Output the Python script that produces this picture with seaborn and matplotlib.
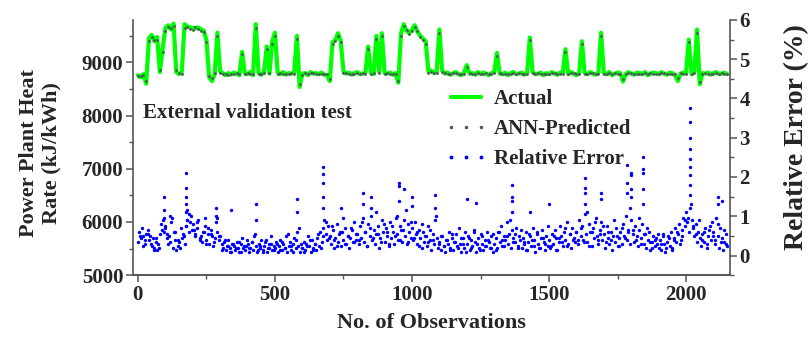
import numpy as np
import matplotlib
matplotlib.use('Agg')
import matplotlib.pyplot as plt
from matplotlib.lines import Line2D
import seaborn as sns

# heat rate, one value every 10 observations (kJ/kWh)
obs_step = 10
actual = [
    8760, 8720, 8780, 8600, 9450, 9520, 9400, 9480, 8820, 9250,
    9650, 9700, 9620, 9730, 8820, 8780, 8820, 9720, 9680, 9660,
    9650, 9640, 9660, 9620, 9600, 9420, 8720, 8650, 8780, 9560,
    8830, 8800, 8760, 8800, 8770, 8810, 8790, 8760, 9200, 8800,
    8780, 8820, 8760, 9720, 8800, 8770, 8820, 9300, 8790, 9400,
    9560, 8800, 8780, 8820, 8770, 8800, 8790, 8810, 9500, 8540,
    8790, 8800, 8760, 8820, 8790, 8800, 8780, 8810, 8770, 8760,
    8650, 9380, 9420, 9550, 9400, 8830, 8790, 8810, 8770, 8800,
    8820, 8780, 8790, 8810, 9300, 8800, 8780, 9500, 8820, 9550,
    8800, 8790, 8810, 8770, 8800, 8620, 9550, 9720, 9600, 9550,
    9620, 9700, 9580, 9500, 9450, 9400, 8830, 8850, 8800, 8820,
    9620, 8850, 8790, 8810, 8770, 8800, 8820, 8780, 8760, 8810,
    8950, 8790, 8800, 8770, 8820, 8780, 8810, 8790, 8760, 8800,
    8820, 9180, 8790, 8780, 8810, 8760, 8800, 8820, 8780, 8790,
    8810, 8770, 8800, 9470, 8820, 8780, 8790, 8810, 8760, 8800,
    8780, 8820, 8790, 8770, 8810, 8800, 9250, 8780, 8820, 8790,
    8760, 8810, 9400, 8800, 8780, 8820, 8790, 8770, 8810, 9560,
    8800, 8780, 8820, 8760, 8790, 8810, 8800, 8640, 8780, 8820,
    8790, 8770, 8810, 8800, 8780, 8820, 8760, 8790, 8810, 8800,
    8780, 8820, 8790, 8770, 8810, 8800, 8760, 8650, 8790, 8810,
    8800, 9430, 8780, 8820, 9620, 8590, 8800, 8790, 8810, 8770,
    8800, 8820, 8780, 8790, 8810, 8780]

predicted = [
    8740, 8750, 8760, 8650, 9400, 9480, 9420, 9430, 8860, 9200,
    9600, 9660, 9640, 9680, 8850, 8800, 8790, 9650, 9660, 9630,
    9620, 9660, 9630, 9600, 9570, 9380, 8750, 8700, 8800, 9500,
    8800, 8780, 8790, 8770, 8790, 8780, 8810, 8780, 9150, 8790,
    8800, 8790, 8780, 9650, 8780, 8790, 8800, 9250, 8810, 9350,
    9500, 8780, 8800, 8790, 8790, 8780, 8810, 8790, 9450, 8600,
    8770, 8810, 8780, 8800, 8800, 8780, 8790, 8790, 8790, 8780,
    8690, 9340, 9400, 9500, 9380, 8800, 8800, 8790, 8790, 8780,
    8800, 8790, 8810, 8790, 9250, 8790, 8800, 9450, 8800, 9500,
    8780, 8800, 8790, 8790, 8780, 8660, 9500, 9680, 9620, 9530,
    9600, 9660, 9600, 9480, 9430, 9350, 8800, 8830, 8810, 8800,
    9560, 8820, 8800, 8790, 8790, 8810, 8800, 8790, 8780, 8790,
    8920, 8800, 8790, 8790, 8800, 8790, 8790, 8800, 8780, 8790,
    8800, 9130, 8800, 8790, 8790, 8780, 8790, 8800, 8790, 8800,
    8790, 8790, 8790, 9420, 8800, 8790, 8800, 8790, 8780, 8790,
    8790, 8800, 8800, 8790, 8790, 8790, 9200, 8790, 8800, 8800,
    8780, 8790, 9350, 8790, 8790, 8800, 8800, 8780, 8790, 9500,
    8790, 8790, 8800, 8780, 8800, 8790, 8790, 8680, 8790, 8800,
    8800, 8780, 8790, 8790, 8790, 8800, 8780, 8800, 8790, 8790,
    8790, 8800, 8800, 8780, 8790, 8790, 8780, 8700, 8800, 8790,
    8790, 9380, 8790, 8800, 9560, 8640, 8790, 8800, 8790, 8780,
    8790, 8800, 8790, 8800, 8790, 8790]

# relative error (%), one value every 5 observations
err_step = 5
rel_error = [
    0.35, 0.6, 0.45, 0.7, 0.5, 0.3, 0.55, 0.65, 0.4, 0.5, 0.25, 0.45, 0.2, 0.35, 0.15, 0.3, 0.55, 0.8, 0.9, 0.6,
    0.7, 0.45, 0.3, 0.5, 0.85, 0.95, 0.6, 0.4, 0.15, 0.25, 0.35, 0.2, 0.45, 0.55, 0.3, 0.75, 0.9, 0.6, 0.85, 1.0,
    0.8, 0.65, 0.55, 0.7, 0.9, 0.45, 0.5, 0.35, 0.6, 0.75, 0.4, 0.55, 0.3, 0.65, 0.5, 0.25, 0.45, 0.85, 0.6, 0.4,
    0.5, 0.3, 0.2, 0.35, 0.15, 0.25, 0.4, 0.2, 0.1, 0.3, 0.25, 0.15, 0.35, 0.2, 0.1, 0.3, 0.45, 0.2, 0.15, 0.25,
    0.3, 0.1, 0.2, 0.35, 0.15, 0.5, 0.25, 0.1, 0.3, 0.2, 0.4, 0.15, 0.25, 0.35, 0.1, 0.2, 0.3, 0.5, 0.15, 0.25,
    0.2, 0.35, 0.1, 0.25, 0.4, 0.15, 0.3, 0.2, 0.5, 0.1, 0.25, 0.35, 0.15, 0.3, 0.45, 0.2, 0.6, 0.25, 0.1, 0.3,
    0.2, 0.35, 0.15, 0.3, 0.5, 0.25, 0.1, 0.4, 0.2, 0.3, 0.15, 0.45, 0.25, 0.6, 0.35, 0.7, 0.9, 0.55, 0.4, 0.75,
    0.5, 0.3, 0.65, 0.2, 0.45, 0.8, 0.35, 0.55, 0.25, 0.6, 0.4, 0.7, 0.3, 0.5, 0.2, 0.45, 0.65, 0.35, 0.85, 0.4,
    0.55, 0.3, 0.75, 0.45, 0.95, 0.35, 0.6, 0.25, 0.8, 0.5, 1.0, 0.4, 0.65, 0.3, 0.55, 0.75, 0.2, 0.45, 0.9, 0.6,
    0.35, 0.7, 0.5, 0.25, 0.85, 0.45, 0.6, 0.3, 0.95, 0.55, 0.4, 0.75, 0.65, 0.35, 0.9, 0.5, 0.3, 0.8, 0.6, 0.45,
    0.7, 0.4, 0.85, 0.55, 0.3, 0.65, 0.45, 0.2, 0.6, 0.35, 0.5, 0.25, 0.75, 0.4, 0.15, 0.55, 0.3, 0.9, 0.45, 0.2,
    0.35, 0.15, 0.5, 0.25, 0.1, 0.4, 0.3, 0.6, 0.2, 0.45, 0.15, 0.35, 0.55, 0.25, 0.7, 0.3, 0.1, 0.45, 0.2, 0.6,
    0.3, 0.5, 0.15, 0.4, 0.25, 0.65, 0.35, 0.1, 0.45, 0.2, 0.55, 0.3, 0.15, 0.4, 0.25, 0.6, 0.35, 0.2, 0.5, 0.1,
    0.3, 0.45, 0.2, 0.6, 0.35, 0.75, 0.25, 0.5, 0.4, 0.85, 0.3, 0.55, 0.2, 0.65, 0.45, 0.35, 0.7, 0.25, 0.5, 0.4,
    0.2, 0.45, 0.3, 0.6, 0.15, 0.35, 0.5, 0.25, 0.7, 0.4, 0.1, 0.55, 0.3, 0.2, 0.45, 0.65, 0.35, 0.15, 0.5, 0.25,
    0.4, 0.2, 0.55, 0.3, 0.65, 0.45, 0.15, 0.35, 0.75, 0.5, 0.25, 0.6, 0.4, 0.85, 0.3, 0.55, 0.2, 0.7, 0.45, 0.35,
    0.6, 0.3, 0.9, 0.5, 0.75, 0.4, 1.05, 0.55, 0.35, 0.8, 0.6, 0.25, 0.7, 0.45, 0.95, 0.5, 0.3, 0.65, 0.85, 0.4,
    0.55, 0.2, 0.75, 0.45, 0.3, 0.6, 0.15, 0.5, 0.35, 0.7, 0.25, 0.45, 0.6, 0.3, 0.8, 0.5, 1.0, 0.4, 0.65, 0.3,
    0.9, 0.55, 0.35, 0.75, 0.5, 0.25, 0.65, 0.45, 0.8, 0.3, 0.55, 0.2, 0.4, 0.6, 0.15, 0.35, 0.5, 0.25, 0.45, 0.3,
    0.2, 0.4, 0.15, 0.55, 0.3, 0.1, 0.35, 0.5, 0.25, 0.6, 0.2, 0.45, 0.7, 0.35, 0.55, 0.8, 0.4, 0.65, 0.95, 0.75,
    1.1, 0.85, 0.6, 1.2, 0.9, 0.7, 0.5, 0.8, 0.35, 0.6, 0.45, 0.25, 0.55, 0.35, 0.7, 0.2, 0.5, 0.65, 0.4, 0.85,
    0.6, 0.3, 0.95, 0.5, 0.2, 0.7, 0.45, 0.15, 0.35, 0.55, 0.25]

# in-between observations (every 10, starting at 7)
err_b_start = 7
err_b_step = 10
rel_error_b = [
    0.5, 0.25, 0.4, 0.55, 0.3, 0.15, 0.45, 0.2, 0.65, 0.75,
    0.55, 0.35, 0.2, 0.6, 0.4, 0.7, 0.5, 0.75, 1.05, 0.65,
    0.5, 0.85, 0.4, 0.6, 0.3, 0.7, 0.55, 0.35, 0.95, 0.5,
    0.15, 0.4, 0.25, 0.1, 0.3, 0.2, 0.35, 0.1, 0.25, 0.4,
    0.2, 0.35, 0.55, 0.15, 0.25, 0.1, 0.4, 0.2, 0.3, 0.15,
    0.3, 0.15, 0.35, 0.2, 0.55, 0.25, 0.1, 0.4, 0.7, 0.2,
    0.1, 0.25, 0.4, 0.15, 0.3, 0.55, 0.2, 0.5, 0.85, 0.45,
    0.75, 0.4, 0.25, 0.6, 0.95, 0.3, 0.5, 0.7, 0.35, 0.55,
    0.4, 0.85, 0.6, 0.25, 0.7, 0.45, 1.1, 0.55, 0.35, 0.8,
    0.6, 0.3, 0.75, 0.5, 1.0, 0.4, 0.65, 1.15, 0.35, 0.85,
    0.45, 0.6, 0.25, 0.8, 0.5, 0.35, 0.65, 0.4, 1.0, 0.3,
    0.5, 0.25, 0.4, 0.15, 0.55, 0.35, 0.2, 0.45, 0.3, 0.1,
    0.45, 0.2, 0.6, 0.3, 0.15, 0.5, 0.25, 0.4, 0.2, 0.55,
    0.15, 0.6, 0.4, 0.25, 0.5, 0.9, 0.35, 0.55, 0.2, 0.65,
    0.35, 0.15, 0.55, 0.4, 0.25, 0.6, 0.2, 0.45, 0.3, 0.75,
    0.25, 0.5, 0.15, 0.45, 0.35, 0.7, 0.25, 0.55, 0.4, 0.6,
    0.4, 0.7, 0.35, 1.1, 0.25, 0.6, 0.85, 0.4, 0.55, 0.75,
    0.35, 0.6, 0.4, 0.9, 0.5, 0.25, 0.7, 0.45, 0.6, 1.2,
    0.65, 0.4, 0.95, 0.3, 0.55, 0.7, 0.35, 0.2, 0.4, 0.55,
    0.3, 0.5, 0.2, 0.45, 0.15, 0.4, 0.6, 0.3, 0.5, 0.9,
    0.95, 1.3, 0.75, 0.55, 0.9, 0.4, 0.6, 0.3, 0.75, 0.5,
    0.4, 0.8, 0.35, 0.65, 0.3]

# vertical streaks of high error
peak_obs = [95, 95, 95, 118, 175, 175, 175, 175, 175, 180, 180, 245, 285, 285, 340,
            430, 430, 580, 580, 676, 676, 676, 676, 676, 740, 820, 820, 850, 850,
            953, 953, 953, 970, 1000, 1000, 1084, 1084, 1200, 1235,
            1365, 1365, 1365, 1365, 1430, 1500, 1630, 1630, 1630, 1630, 1690, 1690,
            1784, 1784, 1784, 1800, 1800, 1800, 1800, 1843, 1843, 1843, 1843, 1843,
            2015, 2015, 2015, 2015, 2015, 2015, 2015, 2015, 2015, 2115, 2115, 2130]
peak_err = [1.5, 1.17, 0.95, 1.0, 2.1, 1.73, 1.5, 1.1, 1.3, 1.15, 0.9, 0.95, 1.2, 1.0, 1.15,
            1.3, 0.9, 1.45, 1.1, 2.25, 2.07, 1.85, 1.5, 1.2, 1.2, 1.6, 1.3, 1.5, 1.2,
            1.84, 1.77, 1.4, 1.7, 1.5, 1.25, 1.55, 1.2, 1.45, 1.35,
            1.8, 1.5, 1.4, 1.1, 1.1, 1.3, 1.98, 1.72, 1.6, 1.3, 1.6, 1.45,
            2.3, 1.85, 1.6, 2.1, 2.05, 1.7, 1.5, 2.5, 2.2, 2.1, 1.7, 1.3,
            3.75, 3.4, 3.0, 2.7, 2.45, 2.25, 2.05, 1.8, 1.55, 1.5, 1.3, 1.4]

obs = np.arange(len(actual)) * obs_step
err_x = np.arange(len(rel_error)) * err_step
err_b_x = err_b_start + np.arange(len(rel_error_b)) * err_b_step

sns.set_theme(style='ticks')
plt.rcParams['font.family'] = ['Liberation Serif', 'DejaVu Serif']
plt.rcParams['font.weight'] = 'bold'

green = '#00ff00'
gray = '#4a5858'
blue = '#0000ff'
spine_col = '#555555'

fig, ax = plt.subplots(figsize=(8.11, 3.38), dpi=100)
fig.subplots_adjust(left=0.164, right=0.900, top=0.941, bottom=0.186)
ax2 = ax.twinx()

sns.lineplot(x=obs, y=actual, ax=ax, color=green, linewidth=3, legend=False)
sns.scatterplot(x=obs, y=predicted, ax=ax, color=gray, s=4, linewidth=0, zorder=3, legend=False)
sns.scatterplot(x=err_x, y=rel_error, ax=ax2, color=blue, s=6, linewidth=0, legend=False)
sns.scatterplot(x=err_b_x, y=rel_error_b, ax=ax2, color=blue, s=6, linewidth=0, legend=False)
sns.scatterplot(x=peak_obs, y=peak_err, ax=ax2, color=blue, s=6, linewidth=0, legend=False)

ax.set_xlim(-18, 2160)
ax.set_ylim(5000, 9800)
ax2.set_ylim(-0.5, 6)
ax.set_xticks([0, 500, 1000, 1500, 2000])
ax.set_xticks([250, 750, 1250, 1750], minor=True)
ax.set_yticks([5000, 6000, 7000, 8000, 9000])
ax.set_yticks([5500, 6500, 7500, 8500, 9500], minor=True)
ax2.set_yticks([0, 1, 2, 3, 4, 5, 6])
ax2.set_yticks([-0.5, 0.5, 1.5, 2.5, 3.5, 4.5, 5.5], minor=True)

for a in (ax, ax2):
    a.spines['top'].set_visible(False)
    for s in ('left', 'right', 'bottom'):
        a.spines[s].set_color(spine_col)
        a.spines[s].set_linewidth(1.2)
    a.tick_params(which='major', direction='out', length=5, width=1.1, color=spine_col,
                  labelsize=15, pad=2)
    a.tick_params(which='minor', direction='out', length=3, width=1, color=spine_col)
    for lab in a.get_xticklabels() + a.get_yticklabels():
        lab.set_fontweight('bold')
ax2.spines['left'].set_visible(False)
ax.spines['right'].set_visible(False)

ax.set_xlabel('No. of Observations', fontsize=16, fontweight='bold', labelpad=6)
ax.set_ylabel('Power Plant Heat\nRate (kJ/kWh)', fontsize=16, fontweight='bold', linespacing=1.15)
ax.yaxis.set_label_coords(-0.12, 0.48)
ax2.set_ylabel('Relative Error (%)', fontsize=20, fontweight='bold')
ax2.yaxis.set_label_coords(1.09, 0.54)

ax.text(0.017, 0.635, 'External validation test', transform=ax.transAxes,
        fontsize=15, fontweight='bold', va='center', ha='left')

handles = [
    Line2D([], [], color=green, linewidth=3),
    Line2D([], [], color=gray, linestyle='none', marker='.', markersize=3),
    Line2D([], [], color=blue, linestyle='none', marker='.', markersize=3.5),
]
labels = ['Actual', 'ANN-Predicted', 'Relative Error']
leg = ax2.legend(handles, labels, loc='upper left', bbox_to_anchor=(0.523, 0.73),
                 frameon=False, numpoints=3, handlelength=2.0, handletextpad=0.35,
                 labelspacing=0.48, borderpad=0, borderaxespad=0,
                 prop={'size': 15, 'weight': 'bold'})

fig.savefig('out.png', dpi=100)
